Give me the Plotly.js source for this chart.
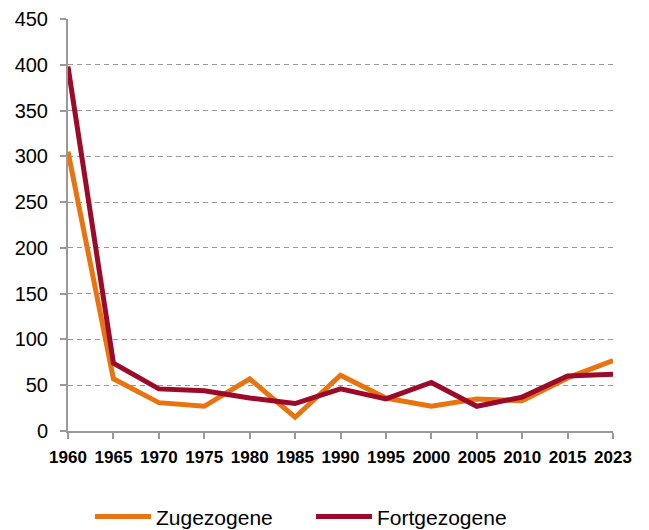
<!DOCTYPE html>
<html>
<head>
<meta charset="utf-8">
<script src="https://cdn.plot.ly/plotly-3.0.1.min.js"></script>
<style>html,body{margin:0;padding:0;background:#fff;}#chart{width:649px;height:530px;}</style>
</head>
<body>
<div id="chart"></div>
<script>
var years = ["1960","1965","1970","1975","1980","1985","1990","1995","2000","2005","2010","2015","2023"];
var zugezogene = [305, 57, 31, 27, 57, 15, 61, 36, 27, 35, 33, 58, 77];
var fortgezogene = [398, 74, 46, 44, 36, 30, 46, 35, 53, 27, 37, 60, 62];
var yTicks = [0, 50, 100, 150, 200, 250, 300, 350, 400, 450];

var traces = [
  {x: years, y: zugezogene, name: "Zugezogene", type: "scatter", mode: "lines",
   line: {color: "#E8740F", width: 5}},
  {x: years, y: fortgezogene, name: "Fortgezogene", type: "scatter", mode: "lines",
   line: {color: "#9C0A2A", width: 5}}
];

var layout = {
  width: 649, height: 530,
  margin: {l: 68, r: 36, t: 19, b: 99, autoexpand: false},
  paper_bgcolor: "#fff", plot_bgcolor: "#fff",
  font: {family: "Arial", color: "#000"},
  showlegend: true,
  legend: {orientation: "h", x: 90/649, xref: "container", xanchor: "left",
           y: 0.025, yref: "container", yanchor: "middle",
           font: {size: 21, color: "#000", family: "Arial"}, itemwidth: 56,
           entrywidth: 150, entrywidthmode: "pixels"},
  xaxis: {type: "category", range: [0, 12], showgrid: false, zeroline: false,
          showline: true, linecolor: "#999", linewidth: 2,
          ticks: "outside", ticklen: 6, tickcolor: "#999", tickwidth: 2,
          tickfont: {size: 17, family: "Arial", weight: "bold"}, ticklabelstandoff: 4,
          fixedrange: true},
  yaxis: {range: [0, 450], tickvals: yTicks, showgrid: true, gridcolor: "#999",
          griddash: "5px,4px", gridwidth: 1, zeroline: false,
          showline: true, linecolor: "#999", linewidth: 2,
          ticks: "outside", ticklen: 6, tickcolor: "#999", tickwidth: 2,
          tickfont: {size: 20, family: "Arial"}, ticklabelstandoff: 8, fixedrange: true}
};

Plotly.newPlot("chart", traces, layout, {displayModeBar: false, staticPlot: true});
</script>
</body>
</html>
